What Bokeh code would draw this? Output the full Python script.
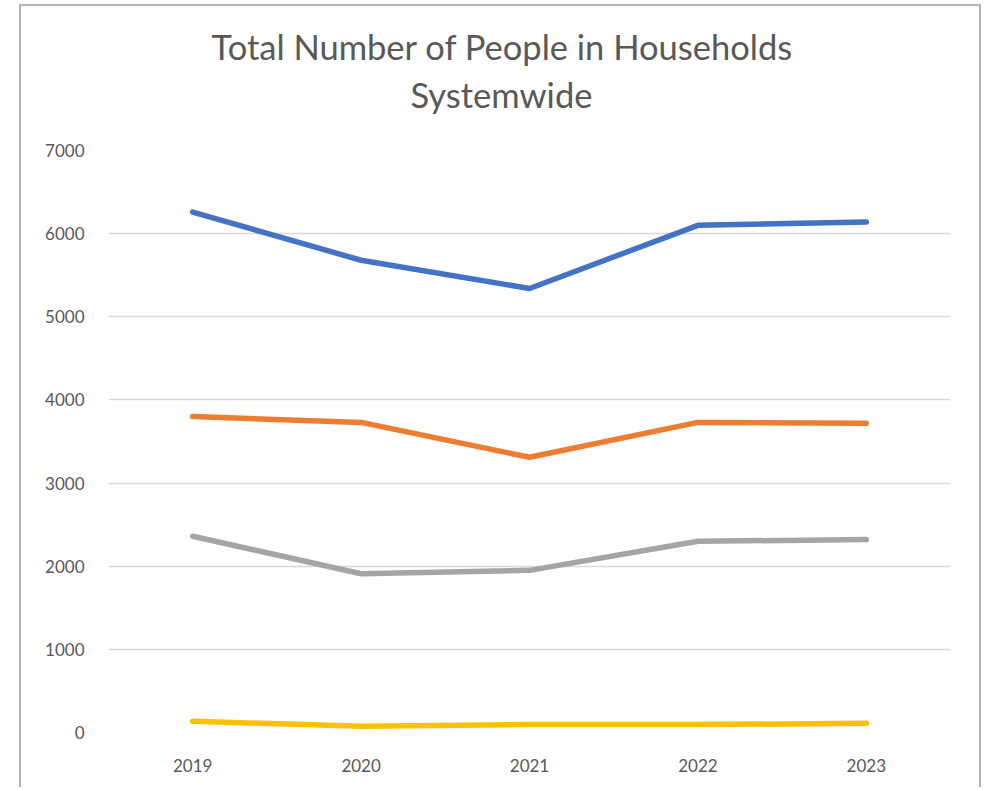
from bokeh.plotting import figure
from bokeh.models import FactorRange, Range1d, Title, FixedTicker
from bokeh.embed import file_html
from bokeh.resources import INLINE

years = ["2019", "2020", "2021", "2022", "2023"]
series_a = [6260, 5680, 5340, 6100, 6140]
series_b = [3800, 3730, 3310, 3730, 3720]
series_c = [2360, 1910, 1950, 2300, 2320]
series_d = [135, 75, 95, 95, 110]
y_ticks = [0, 1000, 2000, 3000, 4000, 5000, 6000, 7000]
title_lines = ["Total Number of People in Households", "Systemwide"]

colors = ["#4472C4", "#ED7D31", "#A5A5A5", "#FFC000"]

W, H = 958, 783
p = figure(x_range=FactorRange(*years, range_padding=0), y_range=Range1d(0, 7000),
           width=W, height=H, output_backend="svg", toolbar_location=None,
           min_border_left=87, min_border_right=29, min_border_top=144, min_border_bottom=57)
p.styles = {"margin-left": "21px", "margin-top": "6px",
            "box-shadow": "-2px -2px 0 0 #B4B4B4, 2px -2px 0 0 #B4B4B4"}
p.outline_line_color = None
p.background_fill_color = "white"
p.border_fill_color = "white"

for vals, c in zip([series_a, series_b, series_c, series_d], colors):
    p.line(years, vals, line_color=c, line_width=5.5, line_cap="round", line_join="round")

p.xgrid.grid_line_color = None
p.ygrid.grid_line_color = "#D9D9D9"
p.ygrid.grid_line_width = 1.5
p.yaxis.ticker = FixedTicker(ticks=y_ticks)
for ax in (p.xaxis, p.yaxis):
    ax.axis_line_color = None
    ax.major_tick_line_color = None
    ax.minor_tick_line_color = None
    ax.major_label_text_color = "#595959"
    ax.major_label_text_font = "Lato"
    ax.major_label_text_font_size = "17px"
p.yaxis.major_label_standoff = 18
p.xaxis.major_label_standoff = 20

# first title line is the figure title (outer); second line stacked closer to the frame
p.title.text = title_lines[0]
p.title.align = "left"
p.title.offset = 103
p.title.standoff = -62
p.title.text_font = "Lato"
p.title.text_font_size = "34.5px"
p.title.text_font_style = "normal"
p.title.text_color = "#595959"
p.add_layout(Title(text=title_lines[1], align="left", offset=302, standoff=72,
                   text_font="Lato", text_font_size="34.5px", text_font_style="normal",
                   text_color="#595959"), "above")

open("out.html", "w").write(file_html(p, INLINE))
